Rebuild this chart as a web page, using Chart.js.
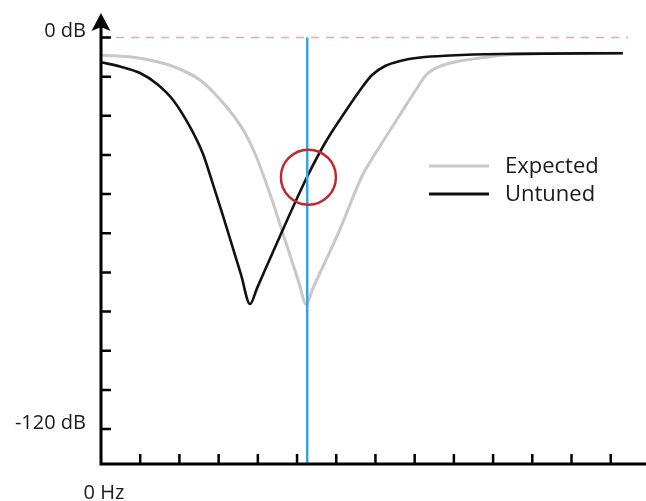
<!DOCTYPE html>
<html>
<head>
<meta charset="utf-8">
<script src="https://cdn.jsdelivr.net/npm/chart.js@4.4.0/dist/chart.umd.min.js"></script>
<style>
  html, body { margin: 0; padding: 0; background: #fff; }
</style>
</head>
<body>
<canvas id="chart" width="646" height="501"></canvas>
<script>
// frequency in tick units, level in dB
const expectedHz = [0, 0.995, 1.837, 2.526, 2.934, 3.367, 3.673, 3.954, 4.311, 4.694, 5.051, 5.23, 5.408, 6.097, 6.658, 6.862, 7.117, 7.628, 8.054, 8.291, 8.495, 8.776, 9.158, 9.668, 10.306, 11.199, 13.309];
const expectedDb = [-5.36, -6.38, -8.89, -13.03, -17.62, -23.75, -29.27, -36.32, -47.97, -62.07, -75.25, -81.69, -76.78, -58.7, -42.45, -38.16, -33.26, -23.6, -15.63, -11.49, -9.66, -8.28, -7.2, -6.28, -5.36, -4.93, -4.84];

const untunedHz = [0, 0.485, 0.995, 1.429, 1.837, 2.27, 2.602, 2.806, 3.112, 3.571, 3.801, 3.98, 4.566, 5.255, 5.714, 6.224, 6.684, 6.913, 7.245, 7.628, 8.138, 8.903, 10.179, 13.31];
const untunedDb = [-7.6, -8.89, -10.88, -14.25, -19.16, -27.43, -35.71, -43.07, -54.68, -72.67, -81.69, -76.8, -60.84, -42.76, -32.34, -22.84, -14.87, -11.49, -8.74, -7.2, -6.13, -5.52, -5.06, -4.84];

const yTicks = [0, -12, -24, -36, -48, -60, -72, -84, -96, -108, -120];
const xTicks = [1, 2, 3, 4, 5, 6, 7, 8, 9, 10, 11, 12, 13];
const yLabels = [[0, "0 dB"], [-120, "-120 dB"]];
const xLabel = "0 Hz";
const seriesNames = ["Expected", "Untuned"];

const markerHz = 5.26;
const circleHz = 5.29;
const circleDb = -42.8;
const refEndHz = 13.44;

const yMin = -130.7;
const yMax = 7.5;
const xMax = 13.9;

const toPoints = (xs, ys) => xs.map((x, i) => ({ x: x, y: ys[i] }));

const FONT = '"Open Sans", "Noto Sans", sans-serif';

const axesPlugin = {
  id: "axes",
  afterDatasetsDraw(chart) {
    const ctx = chart.ctx;
    const xs = chart.scales.x;
    const ys = chart.scales.y;
    const x0 = xs.getPixelForValue(0);
    const y0 = ys.getPixelForValue(yMin);
    ctx.save();
    ctx.strokeStyle = "#000";
    ctx.fillStyle = "#000";
    ctx.lineWidth = 3;
    ctx.beginPath();
    ctx.moveTo(x0, y0);
    ctx.lineTo(x0, ys.top + 14);
    ctx.moveTo(x0 - 1.5, y0);
    ctx.lineTo(chart.width, y0);
    ctx.stroke();

    // tick marks, pointing inside
    ctx.lineWidth = 2.5;
    ctx.beginPath();
    yTicks.forEach(v => {
      const py = ys.getPixelForValue(v);
      ctx.moveTo(x0, py);
      ctx.lineTo(x0 + 10, py);
    });
    xTicks.forEach(v => {
      const px = xs.getPixelForValue(v);
      ctx.moveTo(px, y0);
      ctx.lineTo(px, y0 - 10);
    });
    ctx.stroke();

    // arrow head
    const top = ys.top;
    ctx.beginPath();
    ctx.moveTo(x0, top);
    ctx.lineTo(x0 + 9.5, top + 18);
    ctx.lineTo(x0, top + 14);
    ctx.lineTo(x0 - 9.5, top + 18);
    ctx.closePath();
    ctx.fill();

    // axis labels
    ctx.fillStyle = "#1a1a1a";
    ctx.font = "20px " + FONT;
    ctx.textAlign = "right";
    ctx.textBaseline = "alphabetic";
    yLabels.forEach(([v, t]) => {
      ctx.fillText(t, x0 - 15, ys.getPixelForValue(v));
    });
    ctx.textAlign = "center";
    ctx.fillText(xLabel, x0 + 3, y0 + 35);

    // legend
    const legendColors = ["#c8c8c8", "#111"];
    const legendY = [166, 194];
    ctx.font = "22px " + FONT;
    ctx.textAlign = "left";
    seriesNames.forEach((name, i) => {
      ctx.strokeStyle = legendColors[i];
      ctx.lineWidth = 3;
      ctx.beginPath();
      ctx.moveTo(429, legendY[i]);
      ctx.lineTo(489, legendY[i]);
      ctx.stroke();
      ctx.fillText(name, 505, legendY[i] + 7);
    });
    ctx.restore();
  }
};

Chart.defaults.font.family = FONT;

new Chart(document.getElementById("chart"), {
  type: "line",
  data: {
    datasets: [
      {
        label: "circle",
        data: [{ x: circleHz, y: circleDb }],
        showLine: false,
        pointRadius: 27.5,
        pointBorderWidth: 2.5,
        pointBorderColor: "#c1272d",
        pointBackgroundColor: "rgba(0,0,0,0)",
        order: 0,
      },
      {
        label: "marker",
        data: [{ x: markerHz, y: 0 }, { x: markerHz, y: yMin }],
        borderColor: "#29abe2",
        borderWidth: 2.5,
        pointRadius: 0,
        order: 1,
      },
      {
        label: seriesNames[1],
        data: toPoints(untunedHz, untunedDb),
        borderColor: "#111",
        borderWidth: 2.6,
        pointRadius: 0,
        cubicInterpolationMode: "monotone",
        order: 2,
      },
      {
        label: seriesNames[0],
        data: toPoints(expectedHz, expectedDb),
        borderColor: "#c8c8c8",
        borderWidth: 3,
        pointRadius: 0,
        cubicInterpolationMode: "monotone",
        order: 3,
      },
      {
        label: "0 dB",
        data: [{ x: 0, y: 0 }, { x: refEndHz, y: 0 }],
        borderColor: "#f5a3a3",
        borderWidth: 1.5,
        borderDash: [8, 7],
        pointRadius: 0,
        order: 4,
      },
    ],
  },
  options: {
    responsive: false,
    animation: false,
    events: [],
    layout: { autoPadding: false, padding: { left: 101, right: 0, top: 13, bottom: 37 } },
    plugins: {
      legend: { display: false },
      tooltip: { enabled: false },
    },
    scales: {
      x: { type: "linear", min: 0, max: xMax, display: false },
      y: { type: "linear", min: yMin, max: yMax, display: false },
    },
  },
  plugins: [axesPlugin],
});
</script>
</body>
</html>
